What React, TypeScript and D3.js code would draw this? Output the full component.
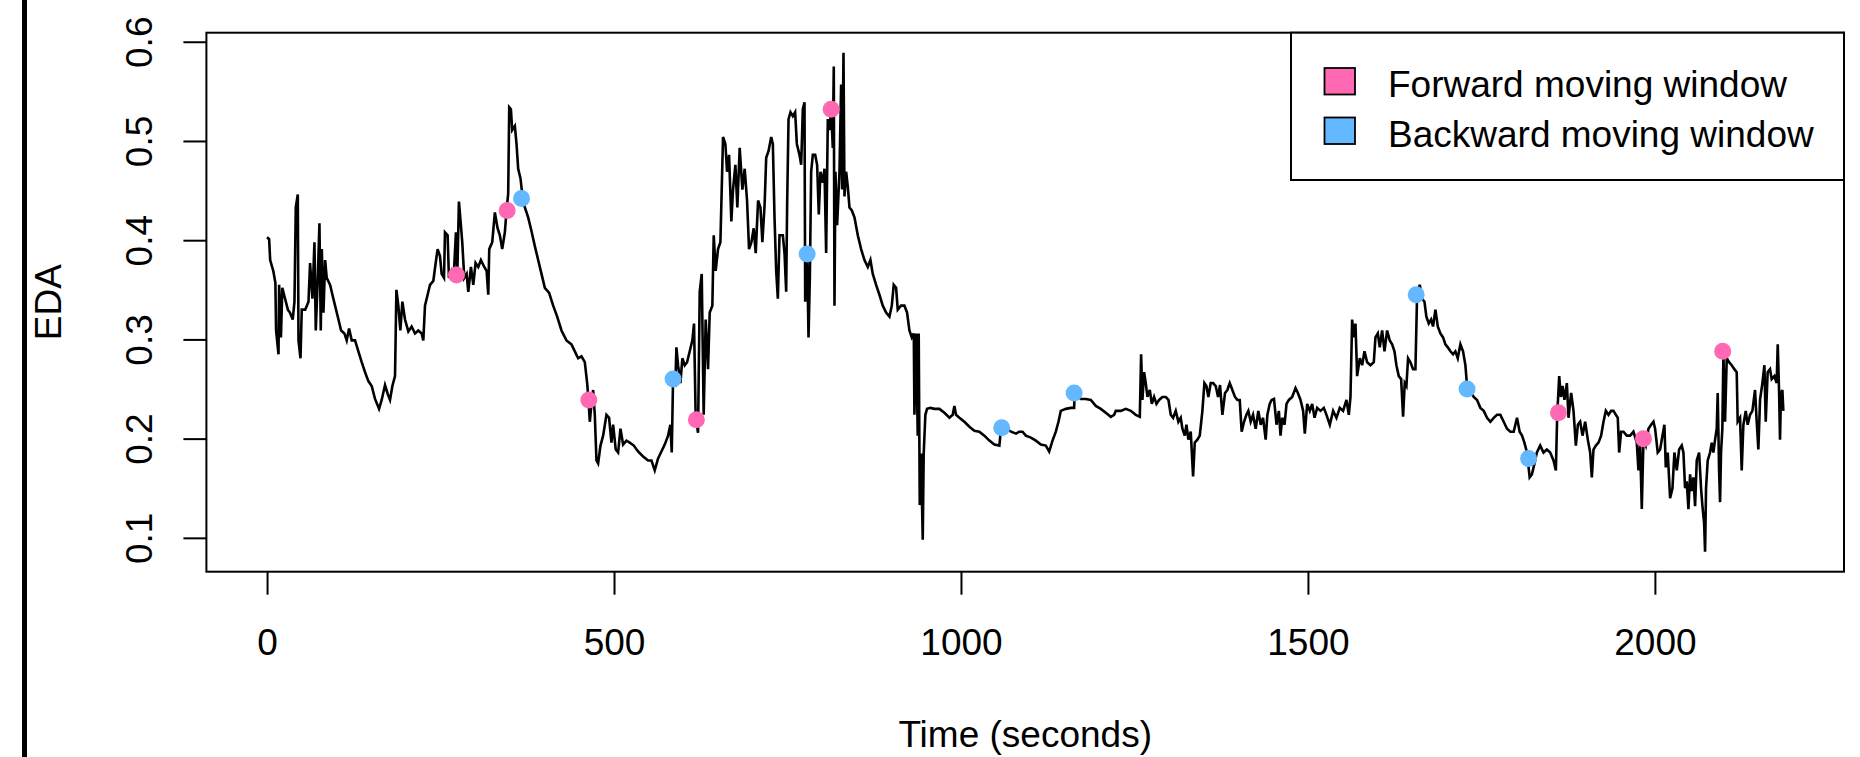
import React, { useEffect, useRef } from 'react';
import * as d3 from 'd3';

// EDA trace, [seconds, EDA], split into stretches
const traceRise = [
  [0, 0.403], [3, 0.401], [4.5, 0.380], [9, 0.369], [12, 0.357], [13, 0.309], [16.5, 0.285], [17.4, 0.355],
  [20, 0.302], [22, 0.352], [26, 0.341], [30, 0.330], [33, 0.327], [37, 0.320], [39.5, 0.338], [41.4, 0.433],
  [44.3, 0.446], [45.3, 0.299], [48.2, 0.281], [50, 0.330], [55, 0.330], [59.7, 0.338], [62, 0.377], [65.4, 0.341],
  [68.3, 0.398], [70.2, 0.309], [73.1, 0.362], [75.5, 0.417], [77.4, 0.309], [78.9, 0.391], [81.3, 0.327], [83.7, 0.380],
  [86, 0.362], [90.9, 0.355], [94.2, 0.345], [98, 0.334], [102.9, 0.320], [106.7, 0.309], [111.5, 0.306], [114.8, 0.299],
  [118.2, 0.311], [122, 0.299], [126.8, 0.299], [131.6, 0.288], [136.4, 0.277], [141.2, 0.267], [146, 0.258], [150.8, 0.253],
  [155.6, 0.240], [161.4, 0.230], [165.2, 0.239], [170, 0.254], [173.9, 0.245], [177.2, 0.239], [180.6, 0.253], [184.4, 0.263],
  [186.4, 0.350], [189.2, 0.334], [192.1, 0.309], [195, 0.338], [198.8, 0.320], [203.6, 0.308], [208.4, 0.313], [213.2, 0.306],
  [218, 0.309], [222.8, 0.306], [225.2, 0.299], [227.6, 0.334], [231.4, 0.345], [234.8, 0.355], [239.6, 0.359], [243, 0.377],
  [245.8, 0.391], [249.2, 0.384], [251.6, 0.366], [255, 0.362], [256.4, 0.408], [260.2, 0.405], [262.1, 0.362], [266, 0.369],
  [268.9, 0.362], [272.2, 0.408], [274.2, 0.366], [276.5, 0.439], [278.9, 0.419], [281.3, 0.398], [284.2, 0.362], [287.6, 0.366],
  [290, 0.348], [293.8, 0.373], [297.2, 0.355], [300.5, 0.377], [304.4, 0.373], [308.2, 0.380], [313, 0.373], [316.4, 0.369],
  [318.8, 0.345], [320.2, 0.391], [324.5, 0.398], [328.3, 0.428], [332.2, 0.412], [335.5, 0.405], [338.9, 0.391], [342.7, 0.408],
  [345.1, 0.430], [347.5, 0.447], [349, 0.534], [351.4, 0.532], [353.3, 0.511], [357.1, 0.515],
];

const traceDip = [
  [359.5, 0.497], [361.9, 0.472], [365.3, 0.462], [368.1, 0.444], [371.5, 0.433], [376.3, 0.423], [381.1, 0.409], [385.9, 0.394],
  [390.7, 0.380], [395.5, 0.366], [400.3, 0.352], [406.5, 0.347], [412.3, 0.334], [418.1, 0.323], [424.3, 0.309], [431.5, 0.299],
  [438.7, 0.295], [443.5, 0.288], [448.3, 0.281], [453.1, 0.283], [457.9, 0.277], [461.3, 0.256], [463.2, 0.239], [465.1, 0.217],
  [467.5, 0.235], [469.9, 0.249], [472.3, 0.224], [474.7, 0.178], [477.1, 0.175], [480.5, 0.193], [484.3, 0.203], [489.1, 0.224],
  [492.9, 0.221], [496.3, 0.196], [498.7, 0.214], [502.5, 0.189], [505.9, 0.186], [509.3, 0.210], [513.1, 0.194], [517.9, 0.198],
  [522.7, 0.196], [528.5, 0.193], [534.7, 0.187], [541.9, 0.182], [549.1, 0.178], [553.9, 0.178], [558.7, 0.168], [563.5, 0.180],
  [568.3, 0.187], [573.1, 0.194], [577.9, 0.203], [581.2, 0.214], [583.2, 0.186], [585.1, 0.260], [588.5, 0.256], [589.9, 0.292],
  [592.3, 0.274], [595.7, 0.256], [598.5, 0.281], [601.9, 0.274], [605.3, 0.277], [609.1, 0.288], [612.9, 0.299], [615.3, 0.316],
  [617.7, 0.221], [621.1, 0.206], [623.5, 0.348], [626.4, 0.366], [629.2, 0.224], [632.1, 0.320], [635.5, 0.270], [637.9, 0.327],
  [641.7, 0.334], [643.7, 0.405], [646.5, 0.369], [649.9, 0.391], [653.3, 0.398], [657.1, 0.504], [660.5, 0.497], [662.9, 0.469],
  [665.8, 0.486], [669.1, 0.419], [671.5, 0.451], [674.9, 0.476], [677.7, 0.433], [681.1, 0.493], [685, 0.451], [688.3, 0.472],
  [691.7, 0.440], [694.6, 0.391], [698, 0.398], [701.3, 0.412], [704.2, 0.387], [707.6, 0.440], [711, 0.433], [713.8, 0.398],
  [717.1, 0.437],
];

const tracePeak = [
  [719.3, 0.483], [722.7, 0.490], [726.5, 0.504], [728.9, 0.497], [731.3, 0.423], [733.7, 0.369], [736.1, 0.341], [738.5, 0.405],
  [743.3, 0.405], [745.7, 0.387], [748.1, 0.348], [749.5, 0.437], [751.5, 0.522], [754.3, 0.529], [757.7, 0.525], [761, 0.529],
  [763.5, 0.497], [767.3, 0.486], [769.7, 0.476], [772.1, 0.532], [774.5, 0.539], [775.5, 0.338], [778.3, 0.387], [780.3, 0.302],
  [782.2, 0.362], [784.1, 0.469], [786.5, 0.486], [789.9, 0.486], [792.7, 0.476], [795.1, 0.426], [797.5, 0.469], [800.9, 0.458],
  [803.3, 0.472], [805.7, 0.387], [808.1, 0.522], [810.5, 0.511], [812.9, 0.532], [815.3, 0.493], [816.7, 0.575], [817.7, 0.334],
  [819.1, 0.469], [821.5, 0.415], [824.9, 0.469], [827.3, 0.557], [828.7, 0.451], [830.7, 0.589], [832.1, 0.444], [834.5, 0.469],
  [836.9, 0.454], [839.3, 0.433], [842.7, 0.430], [846.5, 0.423], [851.3, 0.405], [856.1, 0.391], [860.9, 0.380], [865.7, 0.373],
  [869.5, 0.380], [872.9, 0.366], [877.7, 0.355], [882.5, 0.345], [887.3, 0.334], [892.1, 0.327], [896.9, 0.323], [900.3, 0.334],
  [903.1, 0.355], [906.5, 0.352], [908.9, 0.330], [913.7, 0.334], [918.5, 0.334], [922.3, 0.327], [925.7, 0.309], [929.1, 0.302],
  [932, 0.306], [932.9, 0.224], [935.3, 0.306], [937.7, 0.203], [939.1, 0.306], [940.6, 0.133], [942.5, 0.185], [944.9, 0.098],
  [946.3, 0.185], [948.7, 0.224], [951.1, 0.230], [955.9, 0.231], [961.7, 0.230], [968.9, 0.230], [976.1, 0.226], [983.3, 0.221],
  [988.1, 0.224], [990.5, 0.233], [992.9, 0.224], [997.7, 0.221], [1004.9, 0.217], [1012.1, 0.212], [1019.3, 0.208], [1026.5, 0.207],
  [1033.7, 0.203], [1040.9, 0.198], [1048.1, 0.194], [1055.3, 0.193], [1056.7, 0.203], [1058.7, 0.211], [1064.9, 0.210], [1072.1, 0.207],
  [1079.3, 0.205],
];

const traceFlat = [
  [1083.9, 0.207], [1088.7, 0.207], [1093.5, 0.203], [1100.7, 0.201], [1107.9, 0.198], [1115.1, 0.194], [1122.3, 0.193], [1127.1, 0.187],
  [1131.9, 0.198], [1136.7, 0.207], [1140.5, 0.217], [1143.9, 0.228], [1151.1, 0.230], [1158.3, 0.231], [1163.1, 0.231], [1163.6, 0.246],
  [1172.7, 0.240], [1179.9, 0.240], [1187.1, 0.239], [1194.3, 0.233], [1201.5, 0.230], [1208.7, 0.226], [1215.9, 0.222], [1220.7, 0.224],
  [1223.1, 0.228], [1230.3, 0.228], [1237.5, 0.230], [1244.7, 0.228], [1251.9, 0.224], [1257.7, 0.222], [1259.6, 0.285], [1261.5, 0.239],
  [1263.9, 0.267], [1266.3, 0.256], [1268.7, 0.242], [1272.1, 0.249], [1275, 0.235], [1278.3, 0.242], [1281.7, 0.235], [1285.5, 0.239],
  [1290.3, 0.242], [1295.1, 0.242], [1299, 0.239], [1302.3, 0.224], [1305.7, 0.221], [1309.5, 0.228], [1313.3, 0.217], [1316.7, 0.221],
  [1319.1, 0.210], [1322.5, 0.203], [1324.9, 0.214], [1327.7, 0.199], [1331.1, 0.207], [1334.5, 0.162], [1336.9, 0.196], [1340.7, 0.199],
  [1344.1, 0.203], [1347.9, 0.228], [1350.8, 0.256], [1353.7, 0.253], [1356.5, 0.242], [1359.9, 0.256], [1363.3, 0.256], [1367.1, 0.253],
  [1370.5, 0.242], [1373.3, 0.254], [1376.7, 0.224], [1380.5, 0.246], [1383.9, 0.249], [1387.3, 0.256], [1391.1, 0.249], [1394.9, 0.242],
  [1398.3, 0.239], [1401.7, 0.239], [1404.5, 0.207], [1407.9, 0.217], [1411.3, 0.224], [1414.1, 0.228], [1417.5, 0.217], [1420.9, 0.224],
  [1424.7, 0.210], [1428.5, 0.228], [1431.9, 0.214], [1435.3, 0.221], [1439.1, 0.199], [1441.5, 0.224], [1444.9, 0.235], [1447.7, 0.239],
  [1451.1, 0.240],
];

const traceLate = [
  [1454.7, 0.214], [1458.1, 0.228], [1460.5, 0.203], [1462.9, 0.221], [1466.3, 0.214], [1469.1, 0.235], [1472.5, 0.239], [1477.3, 0.242],
  [1482.1, 0.251], [1485.5, 0.246], [1489.3, 0.239], [1493.1, 0.228], [1495.5, 0.205], [1498.9, 0.235], [1502.7, 0.228], [1506.1, 0.235],
  [1509.5, 0.221], [1513.3, 0.231], [1518.1, 0.228], [1522.9, 0.231], [1526.7, 0.224], [1531.5, 0.214], [1536.3, 0.228], [1541.1, 0.221],
  [1545.9, 0.231], [1550.7, 0.228], [1555.5, 0.239], [1558.9, 0.224], [1561.3, 0.242], [1563.7, 0.320], [1566.1, 0.302], [1568.5, 0.316],
  [1570.9, 0.263], [1574.7, 0.281], [1578.1, 0.274], [1581.5, 0.288], [1585.3, 0.277], [1590.1, 0.274], [1594.9, 0.277], [1597.3, 0.302],
  [1600.7, 0.306], [1603.5, 0.292], [1606.9, 0.309], [1610.3, 0.288], [1614.1, 0.309], [1617.9, 0.299], [1621.3, 0.295], [1624.7, 0.288],
  [1627.5, 0.274], [1630.9, 0.263], [1634.3, 0.260], [1637.1, 0.222], [1639.5, 0.256], [1641.9, 0.253], [1644.3, 0.281], [1647.7, 0.277],
  [1651.5, 0.270], [1654.9, 0.270], [1657.3, 0.345], [1661.1, 0.355], [1664.5, 0.341], [1667.9, 0.338], [1670.7, 0.323], [1674.1, 0.316],
  [1677.5, 0.320], [1680.3, 0.313], [1683.7, 0.330], [1687.1, 0.313], [1690.9, 0.306], [1694.7, 0.302], [1698.1, 0.295], [1701.5, 0.292],
  [1705.3, 0.288], [1709.1, 0.285], [1712.5, 0.288], [1715.9, 0.281], [1719.7, 0.295], [1723.5, 0.288], [1726.9, 0.274], [1729.3, 0.253],
  [1738.9, 0.242], [1743.7, 0.239], [1748.5, 0.231], [1753.3, 0.228], [1758.1, 0.221], [1762.9, 0.217], [1767.7, 0.221], [1772.5, 0.224],
  [1777.3, 0.224], [1782.1, 0.217], [1786.9, 0.210], [1791.7, 0.207], [1796.5, 0.207], [1801.3, 0.221], [1805.1, 0.207], [1808.5, 0.203],
  [1811.9, 0.196], [1815.7, 0.186], [1819.5, 0.161], [1822.7, 0.164], [1826.5, 0.175], [1829.9, 0.186], [1834.7, 0.193], [1839.5, 0.186],
  [1844.3, 0.189], [1849.1, 0.186], [1853.9, 0.178], [1857.3, 0.168], [1859.2, 0.224], [1862.1, 0.263], [1864.5, 0.242], [1866.9, 0.253],
  [1869.7, 0.239], [1873.1, 0.256], [1875.5, 0.221], [1879.3, 0.246], [1882.7, 0.228], [1886.1, 0.193], [1889, 0.214], [1892.3, 0.217],
  [1895.7, 0.203], [1899.5, 0.217], [1903.3, 0.199], [1906.7, 0.186], [1909.1, 0.161], [1911.5, 0.189], [1914.9, 0.193], [1918.7, 0.196],
  [1922.5, 0.203], [1925.9, 0.217], [1929.3, 0.228], [1933.1, 0.224], [1936.9, 0.228], [1940.3, 0.228], [1943.7, 0.224], [1946.5, 0.221],
  [1948.5, 0.186], [1951.3, 0.207], [1954.7, 0.207], [1959.5, 0.203], [1964.3, 0.203], [1969.1, 0.207], [1973.9, 0.196], [1976.3, 0.168],
  [1978.7, 0.196], [1981.1, 0.129], [1983.5, 0.199], [1986.9, 0.193], [1990.7, 0.210], [1994.5, 0.214], [1997.9, 0.217], [2000.3, 0.210],
  [2004.1, 0.186], [2007.5, 0.189], [2010.9, 0.203], [2013.7, 0.214], [2015.7, 0.171], [2018.5, 0.186], [2021.9, 0.140], [2025.3, 0.150],
  [2028.1, 0.186], [2031.5, 0.168], [2034.9, 0.189], [2038.7, 0.193], [2041.1, 0.186], [2043.5, 0.150], [2045.9, 0.157], [2048.3, 0.129],
  [2050.7, 0.164], [2053.1, 0.147], [2055.5, 0.161], [2057.9, 0.132], [2060.3, 0.178], [2063.7, 0.186], [2066.5, 0.150], [2068.5, 0.132],
  [2070.9, 0.115], [2072.3, 0.086], [2073.7, 0.150], [2076.1, 0.178], [2079.5, 0.186], [2081.9, 0.196], [2084.3, 0.186], [2086.7, 0.199],
  [2089.1, 0.210], [2090.5, 0.246], [2092.5, 0.168], [2093.9, 0.136], [2095.3, 0.186], [2097.2, 0.210], [2098.7, 0.285], [2101.1, 0.217],
  [2103.5, 0.281], [2106.9, 0.277], [2110.7, 0.274], [2114.5, 0.270], [2117.9, 0.267], [2119.3, 0.217], [2122.7, 0.221], [2125.1, 0.168],
  [2127.5, 0.214], [2130.9, 0.228], [2133.7, 0.214], [2137.1, 0.224], [2140.5, 0.228], [2144.3, 0.249], [2146.7, 0.217], [2149.1, 0.189],
  [2151.5, 0.239], [2154.9, 0.256], [2157.8, 0.274], [2159.7, 0.217], [2162.5, 0.267], [2165.9, 0.270], [2168.3, 0.260], [2172.2, 0.263],
  [2175.5, 0.256], [2177, 0.295], [2178.9, 0.249], [2180.3, 0.199], [2181.7, 0.246], [2183.7, 0.249], [2185.1, 0.228],
];

// window start markers
const forwardTime = [273, 346, 463.7, 618.7, 812.9, 1861, 1983.5, 2097.7];
const forwardEda = [0.365, 0.430, 0.239, 0.219, 0.532, 0.226, 0.200, 0.288];
const backwardTime = [366.7, 585.1, 778.3, 1058.7, 1163.1, 1656, 1729.3, 1818];
const backwardEda = [0.442, 0.260, 0.386, 0.211, 0.246, 0.345, 0.250, 0.180];

const xTicks = [0, 500, 1000, 1500, 2000];
const yTicks = [0.1, 0.2, 0.3, 0.4, 0.5, 0.6];
const legendLabels = ['Forward moving window', 'Backward moving window'];
const legendColors = ['#FF69B4', '#63B8FF'];

const FONT = '"Liberation Sans", Arial, sans-serif';

export default function App() {
  const ref = useRef<SVGSVGElement>(null);

  useEffect(() => {
    const svg = d3.select(ref.current);
    svg.selectAll('*').remove();

    const trace = [...traceRise, ...traceDip, ...tracePeak, ...traceFlat, ...traceLate];

    const box = { left: 206.4, right: 1844, top: 32.7, bottom: 571.7 };

    // R style: data range padded by 4% on each side
    const pad = (ext: number[]) => {
      const r = ext[1] - ext[0];
      return [ext[0] - r * 0.04, ext[1] + r * 0.04];
    };

    const x = d3.scaleLinear()
      .domain(pad(d3.extent(trace, d => d[0]) as number[]))
      .range([box.left, box.right]);

    const y = d3.scaleLinear()
      .domain(pad(d3.extent(trace, d => d[1]) as number[]))
      .range([box.bottom, box.top]);

    // the dark bar down the left edge of the screenshot
    svg.append('rect')
      .attr('x', 22)
      .attr('y', 0)
      .attr('width', 5)
      .attr('height', 757)
      .attr('fill', '#000');

    const line = d3.line<number[]>()
      .x(d => x(d[0]))
      .y(d => y(d[1]));

    svg.append('path')
      .datum(trace)
      .attr('d', line)
      .attr('fill', 'none')
      .attr('stroke', '#000')
      .attr('stroke-width', 2.6)
      .attr('stroke-linejoin', 'miter');

    const dots = svg.append('g');
    dots.selectAll('.fwd')
      .data(forwardTime)
      .enter().append('circle')
      .attr('class', 'fwd')
      .attr('cx', d => x(d))
      .attr('cy', (d, i) => y(forwardEda[i]))
      .attr('r', 8.5)
      .attr('fill', legendColors[0]);

    dots.selectAll('.bwd')
      .data(backwardTime)
      .enter().append('circle')
      .attr('class', 'bwd')
      .attr('cx', d => x(d))
      .attr('cy', (d, i) => y(backwardEda[i]))
      .attr('r', 8.5)
      .attr('fill', legendColors[1]);

    // bottom axis
    const bottom = svg.append('g')
      .attr('transform', 'translate(0,' + box.bottom + ')')
      .call(d3.axisBottom(x).tickValues(xTicks).tickSize(23).tickSizeOuter(0).tickFormat(d3.format('d')));
    bottom.select('.domain').remove();
    bottom.selectAll('line').attr('stroke', '#000').attr('stroke-width', 2);
    bottom.selectAll('text')
      .attr('font-family', FONT)
      .attr('font-size', 37)
      .attr('fill', '#000')
      .attr('dy', 0)
      .attr('y', 83);

    // left axis, labels turned like R's default
    const left = svg.append('g')
      .attr('transform', 'translate(' + box.left + ',0)')
      .call(d3.axisLeft(y).tickValues(yTicks).tickSize(23).tickSizeOuter(0).tickFormat(d3.format('.1f')));
    left.select('.domain').remove();
    left.selectAll('line').attr('stroke', '#000').attr('stroke-width', 2);
    left.selectAll('text')
      .attr('font-family', FONT)
      .attr('font-size', 37)
      .attr('fill', '#000')
      .attr('x', null)
      .attr('dy', null)
      .attr('text-anchor', 'middle')
      .attr('transform', 'translate(-54.4,0) rotate(-90)');

    // plot frame
    svg.append('rect')
      .attr('x', box.left)
      .attr('y', box.top)
      .attr('width', box.right - box.left)
      .attr('height', box.bottom - box.top)
      .attr('fill', 'none')
      .attr('stroke', '#000')
      .attr('stroke-width', 2);

    svg.append('text')
      .attr('x', (box.left + box.right) / 2)
      .attr('y', 747)
      .attr('text-anchor', 'middle')
      .attr('font-family', FONT)
      .attr('font-size', 37)
      .text('Time (seconds)');

    svg.append('text')
      .attr('transform', 'translate(61,' + (box.top + box.bottom) / 2 + ') rotate(-90)')
      .attr('text-anchor', 'middle')
      .attr('font-family', FONT)
      .attr('font-size', 37)
      .text('EDA');

    // legend
    const legend = svg.append('g');
    legend.append('rect')
      .attr('x', 1291)
      .attr('y', box.top)
      .attr('width', box.right - 1291)
      .attr('height', 180 - box.top)
      .attr('fill', '#fff')
      .attr('stroke', '#000')
      .attr('stroke-width', 2);

    const items = legend.selectAll('.item')
      .data(legendLabels)
      .enter().append('g')
      .attr('class', 'item')
      .attr('transform', (d, i) => 'translate(0,' + (81 + i * 49.5) + ')');

    items.append('rect')
      .attr('x', 1324.5)
      .attr('y', -13)
      .attr('width', 30.5)
      .attr('height', 26.5)
      .attr('fill', (d, i) => legendColors[i])
      .attr('stroke', '#000')
      .attr('stroke-width', 1.8);

    items.append('text')
      .attr('x', 1388)
      .attr('y', 16)
      .attr('font-family', FONT)
      .attr('font-size', 37)
      .text(d => d);
  }, []);

  return (
    <svg ref={ref} width={1860} height={757}
      style={{ position: 'absolute', left: 0, top: 0, background: '#fff' }} />
  );
}
